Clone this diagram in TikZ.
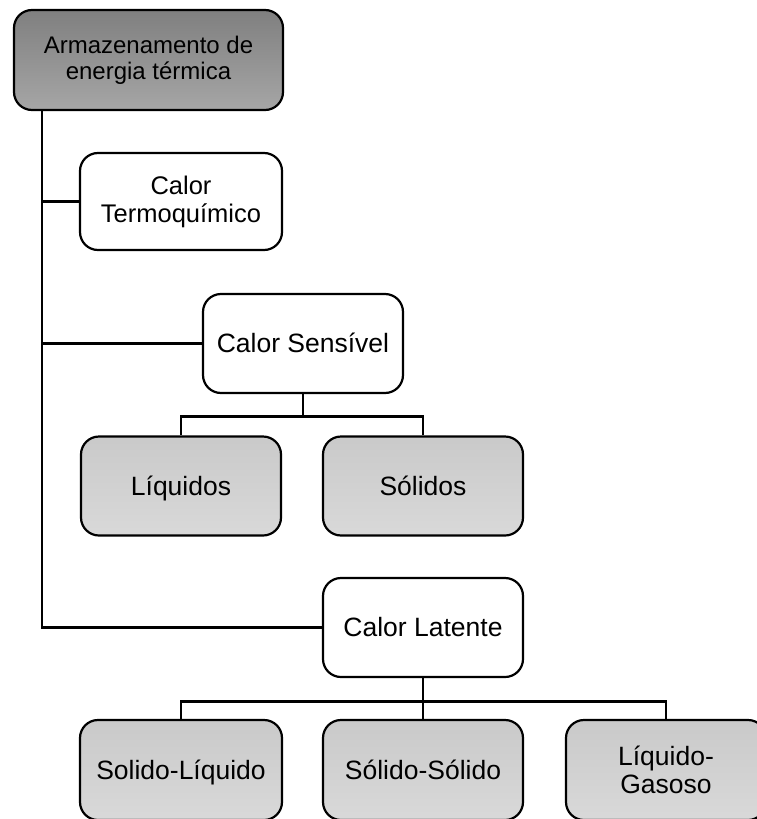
\documentclass[tikz,border=0pt]{standalone}
\usepackage{fontspec}
\setmainfont{Liberation Sans}
\begin{document}
\begin{tikzpicture}[x=1pt,y=-1pt,
  box/.style={draw=black, line width=2.2pt, rounded corners=18pt,
    minimum width=200pt, minimum height=99pt, align=center,
    inner sep=0pt, font=\fontsize{26.5}{28.5}\selectfont},
  oneline/.style={text height=19pt, text depth=1pt},
  whitebox/.style={box, fill=white},
  graybox/.style={box, top color=gray!42!white, bottom color=gray!30!white},
  rootbox/.style={box, minimum width=269pt, minimum height=100pt,
    top color=black!50, bottom color=black!35, font=\fontsize{24}{26}\selectfont},
  conn/.style={draw=black, line width=2.8pt}]
\useasboundingbox (0,0) rectangle (756,819);

% nodes
\node[rootbox]  (root)  at (148.5,60)  {Armazenamento de\\energia térmica};
\node[whitebox, minimum width=202pt, minimum height=97pt,
      font=\fontsize{25.5}{28}\selectfont] (termo) at (181,201.5) {Calor\\Termoquímico};
\node[whitebox, oneline] (sens)  at (303,343.5) {Calor Sensível};
\node[graybox, oneline]  (liq)   at (181,486)   {Líquidos};
\node[graybox, oneline]  (sol)   at (423,486)   {Sólidos};
\node[whitebox, oneline] (lat)   at (423,627.5) {Calor Latente};
\node[graybox, oneline, minimum width=202pt, minimum height=100pt] (sl) at (181,770) {Solido-Líquido};
\node[graybox, oneline, minimum height=100pt]  (ss)  at (423,770) {Sólido-Sólido};
\node[graybox, minimum height=100pt]  (lg)  at (666,770) {Líquido-\\Gasoso};

% main trunk
\coordinate (trunk) at (42,110);
\draw[conn] (root.south -| trunk) |- (lat.west);
\draw[conn] (termo.west -| trunk) -- (termo.west);
\draw[conn] (sens.west -| trunk) -- (sens.west);

% sensible heat branches
\draw[conn] (sens.south) -- ++(0,22) -| (liq.north);
\draw[conn] (sens.south) -- ++(0,22) -| (sol.north);

% latent heat branches
\draw[conn] (lat.south) -- ++(0,23) -| (sl.north);
\draw[conn] (lat.south) -- (ss.north);
\draw[conn] (lat.south) -- ++(0,23) -| (lg.north);
\end{tikzpicture}
\end{document}
